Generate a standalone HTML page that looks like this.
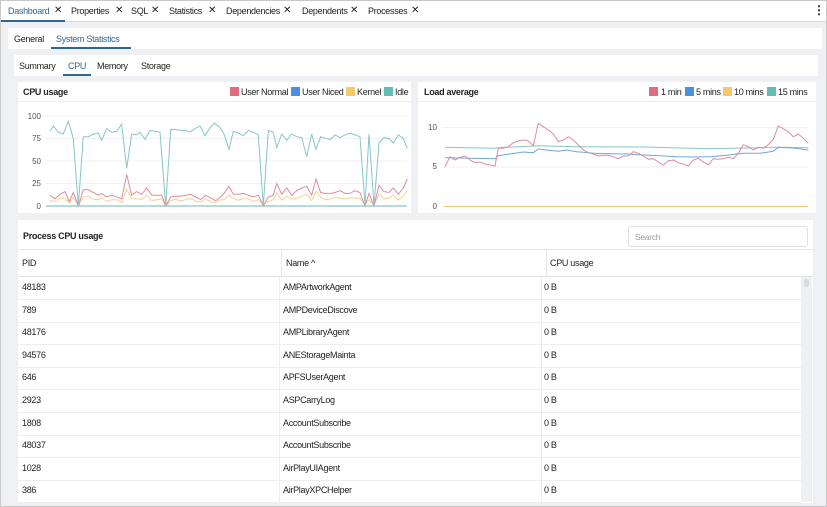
<!DOCTYPE html>
<html><head><meta charset="utf-8"><style>
*{box-sizing:border-box;margin:0;padding:0}
body{width:827px;height:507px;overflow:hidden;font-family:"Liberation Sans",sans-serif;color:#222;background:#fff;position:relative}
.abs{position:absolute}
.t{position:absolute;font-size:9px;letter-spacing:-0.3px;white-space:nowrap}
.x{position:absolute;font-size:10px;white-space:nowrap}
</style></head><body>
<div class="abs" style="left:0;top:0;width:827px;height:507px;border:1px solid #c8c8c8;background:#eef0f3"></div>
<div class="abs" style="left:1px;top:1px;width:825px;height:21px;background:#fff;border-bottom:1px solid #d8dbe0"></div>
<div class="abs" style="left:1px;top:20px;width:64px;height:2px;background:#326690"></div>
<div class="t" style="left:8px;top:6px;color:#326690">Dashboard</div><div class="x" style="left:54px;top:5px">✕</div>
<div class="t" style="left:71px;top:6px">Properties</div><div class="x" style="left:115px;top:5px">✕</div>
<div class="t" style="left:131px;top:6px">SQL</div><div class="x" style="left:151px;top:5px">✕</div>
<div class="t" style="left:169px;top:6px">Statistics</div><div class="x" style="left:208px;top:5px">✕</div>
<div class="t" style="left:226px;top:6px">Dependencies</div><div class="x" style="left:283px;top:5px">✕</div>
<div class="t" style="left:302px;top:6px">Dependents</div><div class="x" style="left:350px;top:5px">✕</div>
<div class="t" style="left:368px;top:6px">Processes</div><div class="x" style="left:411px;top:5px">✕</div>
<div class="x" style="left:813px;top:3px;font-size:12px;font-weight:bold">⋮</div>

<div class="abs" style="left:8px;top:28px;width:814px;height:21px;background:#fff"></div>
<div class="t" style="left:14px;top:34px">General</div>
<div class="t" style="left:56px;top:34px;color:#326690">System Statistics</div>
<div class="abs" style="left:51px;top:47px;width:80px;height:2px;background:#326690"></div>

<div class="abs" style="left:14px;top:55px;width:804px;height:21px;background:#fff"></div>
<div class="t" style="left:19px;top:61px">Summary</div>
<div class="t" style="left:68px;top:61px;color:#326690">CPU</div>
<div class="t" style="left:97px;top:61px">Memory</div>
<div class="t" style="left:141px;top:61px">Storage</div>
<div class="abs" style="left:63px;top:74px;width:28px;height:2px;background:#326690"></div>

<div class="abs" style="left:18px;top:82px;width:393px;height:131px;background:#fff"></div>
<div class="abs" style="left:18px;top:101px;width:393px;height:1px;background:#eceef1"></div>
<div class="t" style="left:23px;top:87px;font-weight:bold">CPU usage</div>
<div class="abs" style="left:230px;top:87px;width:9px;height:9px;background:#e06c80"></div><div class="t" style="left:241px;top:87px">User Normal</div>
<div class="abs" style="left:291px;top:87px;width:9px;height:9px;background:#4a90e2"></div><div class="t" style="left:302px;top:87px">User Niced</div>
<div class="abs" style="left:346px;top:87px;width:9px;height:9px;background:#f5c86a"></div><div class="t" style="left:357px;top:87px">Kernel</div>
<div class="abs" style="left:384px;top:87px;width:9px;height:9px;background:#5fbdb5"></div><div class="t" style="left:395px;top:87px">Idle</div>

<div class="abs" style="left:418px;top:82px;width:398px;height:131px;background:#fff"></div>
<div class="abs" style="left:418px;top:101px;width:398px;height:1px;background:#eceef1"></div>
<div class="t" style="left:424px;top:87px;font-weight:bold">Load average</div>
<div class="abs" style="left:649px;top:87px;width:9px;height:9px;background:#e06c80"></div><div class="t" style="left:661px;top:87px">1 min</div>
<div class="abs" style="left:685px;top:87px;width:9px;height:9px;background:#4a90e2"></div><div class="t" style="left:696px;top:87px">5 mins</div>
<div class="abs" style="left:723px;top:87px;width:9px;height:9px;background:#f5c86a"></div><div class="t" style="left:734px;top:87px">10 mins</div>
<div class="abs" style="left:767px;top:87px;width:9px;height:9px;background:#5fbdb5"></div><div class="t" style="left:778px;top:87px">15 mins</div>

<svg class="abs" style="left:0;top:0" width="827" height="507" id="svg">
<g font-family="Liberation Sans" font-size="8" fill="#555" text-anchor="end">
<text x="41" y="119">100</text><text x="41" y="141">75</text><text x="41" y="164">50</text><text x="41" y="186">25</text><text x="41" y="209">0</text>
<text x="437" y="130">10</text><text x="437" y="169">5</text><text x="437" y="209">0</text>
</g>
<g stroke="#f0f1f3" stroke-width="1">
<line x1="46" x2="407" y1="116" y2="116"/><line x1="46" x2="407" y1="138.5" y2="138.5"/><line x1="46" x2="407" y1="161" y2="161"/><line x1="46" x2="407" y1="183.5" y2="183.5"/>
<line x1="442" x2="808" y1="127.5" y2="127.5"/><line x1="442" x2="808" y1="167" y2="167"/>
</g>
<line x1="46" x2="407" y1="206" y2="206" stroke="#5fbdb5" stroke-width="1"/>
<line x1="444" x2="808" y1="206.5" y2="206.5" stroke="#f5c86a" stroke-width="1"/>
</svg>

<div class="abs" style="left:18px;top:220px;width:795px;height:283px;background:#fff"></div>
<div class="t" style="left:23px;top:231px;font-weight:bold">Process CPU usage</div>
<div class="abs" style="left:628px;top:226px;width:180px;height:21px;border:1px solid #dde0e4;border-radius:3px"></div>
<div class="t" style="left:635px;top:232px;font-size:8.5px;color:#999">Search</div>
<div class="abs" style="left:18px;top:249px;width:795px;height:1px;background:#e4e6ea"></div>
<div class="abs" style="left:18px;top:276px;width:795px;height:1px;background:#dfe2e6"></div>
<div class="abs" style="left:281px;top:250px;width:1px;height:26px;background:#e4e6ea"></div>
<div class="abs" style="left:546px;top:250px;width:1px;height:26px;background:#e4e6ea"></div>
<div class="t" style="left:22px;top:258px">PID</div>
<div class="t" style="left:286px;top:258px">Name ^</div>
<div class="t" style="left:550px;top:258px">CPU usage</div>
<div class="abs" style="left:801px;top:277px;width:11px;height:225px;background:#eef0f3"></div>
<div class="abs" style="left:804px;top:279px;width:5px;height:8px;background:#d8dbe0;border-radius:2px"></div>
<div id="rows"></div>
<script>
var rows=[["48183","AMPArtworkAgent"],["789","AMPDeviceDiscove"],["48176","AMPLibraryAgent"],["94576","ANEStorageMainta"],["646","APFSUserAgent"],["2923","ASPCarryLog"],["1808","AccountSubscribe"],["48037","AccountSubscribe"],["1028","AirPlayUIAgent"],["386","AirPlayXPCHelper"]];
var h="";
rows.forEach(function(r,i){var y=277+i*22.6;
h+='<div class="t" style="left:22px;top:'+(y+5)+'px">'+r[0]+'</div><div class="t" style="left:283px;top:'+(y+5)+'px">'+r[1]+'</div><div class="t" style="left:544px;top:'+(y+5)+'px">0 B</div><div class="abs" style="left:18px;top:'+(y+22)+'px;width:783px;height:1px;background:#eceef1"></div>';});
h+='<div class="abs" style="left:279px;top:277px;width:1px;height:225px;background:#eceef1"></div><div class="abs" style="left:541px;top:277px;width:1px;height:225px;background:#eceef1"></div>';
document.getElementById("rows").innerHTML=h;
var svg=document.getElementById("svg");
function pl(pts,col){var p=document.createElementNS("http://www.w3.org/2000/svg","polyline");p.setAttribute("points",pts.join(" "));p.setAttribute("fill","none");p.setAttribute("stroke",col);p.setAttribute("stroke-width","1");svg.appendChild(p);}
var idle=[150,83,160,89,175,82,190,80,205,94,220,75,235,0,250,77,265,77,280,80,295,81,305,73,320,86,335,82,350,83,365,91,380,42,395,80,410,79,420,82,435,74,450,84,465,83,480,82,497,0,512,85,527,85,542,84,557,84,570,82,585,86,600,89,615,78,630,87,643,92,658,88,672,80,687,63,700,83,715,81,730,78,745,84,760,82,775,79,790,0,805,84,820,82,830,65,845,80,860,73,875,80,890,77,905,76,920,55,935,80,948,63,962,77,977,75,992,74,1005,79,1020,76,1035,79,1050,81,1065,79,1080,77,1095,0,1107,80,1122,0,1137,70,1152,76,1167,75,1180,70,1195,79,1210,75,1222,64];
var red=[150,12,165,8,180,13,195,16,208,5,220,15,235,0,250,18,265,18,280,15,295,12,305,14,320,10,335,12,350,10,365,8,380,35,395,12,410,16,425,13,440,20,455,12,470,12,485,12,497,0,512,10,527,11,542,11,557,12,572,13,587,10,602,7,617,12,632,9,647,6,662,10,672,14,687,22,700,13,715,13,730,14,745,12,760,10,775,12,790,0,805,10,820,12,830,25,845,13,860,20,875,12,890,17,905,20,920,22,935,12,948,30,962,15,977,14,992,14,1005,15,1020,17,1035,14,1050,14,1065,17,1080,15,1095,0,1107,14,1122,0,1137,23,1152,16,1167,15,1180,20,1195,13,1210,20,1222,30];
function cpu(a,f){var o=[];for(var i=0;i<a.length;i+=2){o.push((a[i]/3).toFixed(1)+","+(206-f(a[i+1],i)*0.9).toFixed(1));}return o;}
pl(cpu(red,function(v,i){return v*0.5+((i/2)%3);}),"#f5d28f");
pl(cpu(red,function(v){return v;}),"#df8ba0");
pl(cpu(idle,function(v){return v;}),"#86c7c4");
function ld(a){var o=[];for(var i=0;i<a.length;i+=2){o.push((410+a[i]/3).toFixed(1)+","+(80+a[i+1]/3).toFixed(1));}return o;}
pl(ld([105,202,250,205,265,203,385,197,500,200,700,201,900,206,1000,204,1100,202,1195,203]),"#86c7c4");
pl(ld([105,233,255,236,265,227,300,222,340,216,370,218,385,207,430,212,445,214,470,210,500,215,520,217,550,220,600,221,650,222,700,225,750,227,800,230,850,231,900,230,950,226,1000,220,1050,220,1090,214,1105,202,1150,204,1195,210]),"#6aa8d8");
pl(ld([105,260,120,230,135,240,150,232,165,228,180,240,195,248,210,246,225,252,255,258,265,205,280,205,295,200,310,188,325,183,340,180,355,183,370,197,385,130,400,140,415,150,430,162,445,185,460,180,475,170,490,180,505,195,520,210,535,218,550,222,565,228,580,226,595,226,610,230,625,236,640,228,655,228,670,215,685,220,700,228,715,238,730,236,745,246,760,255,775,242,790,240,805,248,820,252,835,258,850,240,865,235,880,246,895,254,910,236,925,238,940,236,955,232,970,236,985,220,1000,194,1015,200,1030,210,1045,202,1060,204,1075,194,1090,178,1105,138,1120,146,1135,155,1150,170,1165,162,1180,175,1195,190]),"#df8ba0");
</script>
</body></html>
